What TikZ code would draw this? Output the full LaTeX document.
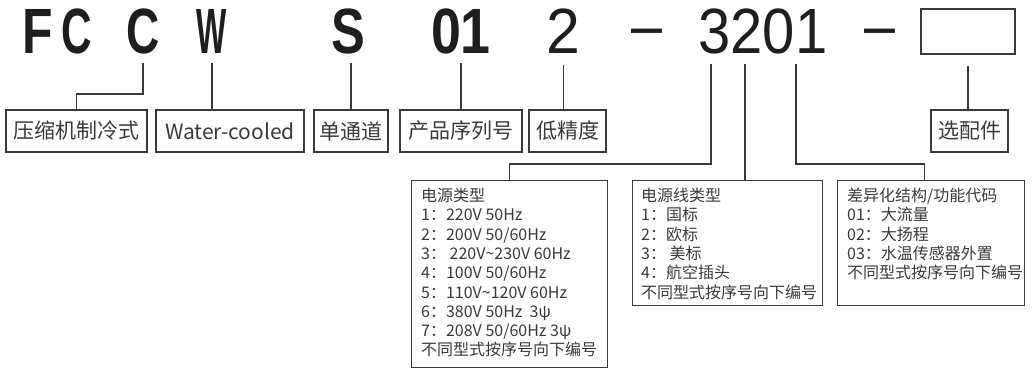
\documentclass[tikz,border=0pt]{standalone}
\usepackage{fontspec}
\setmainfont{Liberation Sans}
\newfontfamily\cjk{Noto Sans CJK SC}
\usetikzlibrary{calc}
\definecolor{linec}{HTML}{3A3A3A}
\definecolor{txt}{HTML}{3A3A3A}
\definecolor{big}{HTML}{1E1E1E}
\begin{document}
\begin{tikzpicture}[x=1pt,y=-1pt,
  ln/.style={draw=linec, line width=1.1pt},
  topb/.style={font=\fontsize{64}{64}\selectfont\bfseries, text=big, inner sep=0pt, anchor=base},
  topr/.style={font=\fontsize{64}{64}\selectfont, text=big, inner sep=0pt, anchor=base},
  lab/.style={draw=linec, line width=1.1pt, font=\cjk\fontsize{21}{21}\selectfont, text=txt, inner sep=0pt, minimum height=42pt},
  bigbox/.style={draw=linec, line width=1.1pt, inner sep=0pt, anchor=north west},
  ltx/.style={font=\cjk\fontsize{16}{16}\selectfont, text=txt, inner sep=0pt, anchor=base west}]
\useasboundingbox (0,0) rectangle (1033,368);

% top code
\node[topb] (f)   at (37.5,53) {\scalebox{0.78}[1]{F}};
\node[topb] (c1)  at (76.5,53) {\scalebox{0.66}[1]{C}};
\node[topb] (c2)  at (143,53)  {\scalebox{0.72}[1]{C}};
\node[topb] (w)   at (212,53)  {\scalebox{0.5}[1]{W}};
\node[topb] (s)   at (348,53)  {\scalebox{0.79}[1]{S}};
\node[topb] (o1)  at (461,53)  {\scalebox{0.84}[1]{01}};
\node[topr] (two) at (563.5,53) {\scalebox{0.95}[1]{2}};
\node[topr] (d1)  at (646.5,47.5) {\scalebox{0.87}[1]{–}};
\node[topr] (num) at (763,53)  {\scalebox{0.906}[1]{3201}};
\node[topr] (d2)  at (879.5,47.5) {\scalebox{0.87}[1]{–}};
\node[draw=linec, line width=1.1pt, minimum width=94pt, minimum height=45pt, inner sep=0pt] (opt) at (968,31.5) {};

% second row labels
\node[lab, minimum width=141pt] (b1) at (76.5,131)  {压缩机制冷式};
\node[lab, minimum width=148pt] (b2) at (230,131)   {Water-cooled};
\node[lab, minimum width=74pt]  (b3) at (351,131)   {单通道};
\node[lab, minimum width=122pt] (b4) at (461,131)   {产品序列号};
\node[lab, minimum width=77pt]  (b5) at (567.5,131) {低精度};
\node[lab, minimum width=77pt]  (b6) at (969.5,131) {选配件};

% connectors top -> row 2
\draw[ln] ($(c2.base)+(0,10)$) -- ++(0,31) -| (b1.north);
\draw[ln] ($(w.base)+(0,10)$) -- (w.base |- b2.north);
\draw[ln] ($(b3.north |- s.base)+(0,10)$) -- (b3.north);
\draw[ln] ($(b4.north |- o1.base)+(0,10)$) -- (b4.north);
\draw[ln] ($(two.base)+(0,12)$) -- (two.base |- b5.north);
\draw[ln] ($(opt.south)+(0,11)$) -- (opt.south |- b6.north);

% big boxes
\node[bigbox, minimum width=196pt, minimum height=187pt] (p1) at (411,180) {};
\node[bigbox, minimum width=190pt, minimum height=125pt] (p2) at (632,180) {};
\node[bigbox, minimum width=187pt, minimum height=125pt] (p3) at (837,180) {};

\coordinate (q1) at (711,64);
\coordinate (q2) at (745,64);
\coordinate (q3) at (796,64);
\draw[ln] (q1) -- ++(0,100) -| (p1.north);
\draw[ln] (q2) -- (q2 |- p2.north);
\draw[ln] (q3) -- ++(0,100) -| ($(p3.north)+(-6.5,0)$);

% box 1 text
\node[ltx] (a0) at (421,201.5) {电源类型};
\node[ltx] (a1) at (421,220.8) {1：220V 50Hz};
\node[ltx] (a2) at (421,240.1) {2：200V 50/60Hz};
\node[ltx] (a3) at (421,259.4) {3： 220V\textasciitilde230V 60Hz};
\node[ltx] (a4) at (421,278.7) {4：100V 50/60Hz};
\node[ltx] (a5) at (421,298.0) {5：110V\textasciitilde120V 60Hz};
\node[ltx] (a6) at (421,317.3) {6：380V 50Hz\ \ 3ψ};
\node[ltx] (a7) at (421,336.6) {7：208V 50/60Hz 3ψ};
\node[ltx] (a8) at (421,355.9) {不同型式按序号向下编号};

% box 2 text
\node[ltx] (e0) at (641,201.5) {电源线类型};
\node[ltx] (e1) at (641,220.8) {1：国标};
\node[ltx] (e2) at (641,240.1) {2：欧标};
\node[ltx] (e3) at (641,259.4) {3： 美标};
\node[ltx] (e4) at (641,278.7) {4：航空插头};
\node[ltx] (e5) at (641,298.0) {不同型式按序号向下编号};

% box 3 text
\node[ltx] (g0) at (847,201.5) {差异化结构/功能代码};
\node[ltx] (g1) at (847,220.8) {01：大流量};
\node[ltx] (g2) at (847,240.1) {02：大扬程};
\node[ltx] (g3) at (847,259.4) {03：水温传感器外置};
\node[ltx] (g4) at (847,278.7) {不同型式按序号向下编号};
\end{tikzpicture}
\end{document}
